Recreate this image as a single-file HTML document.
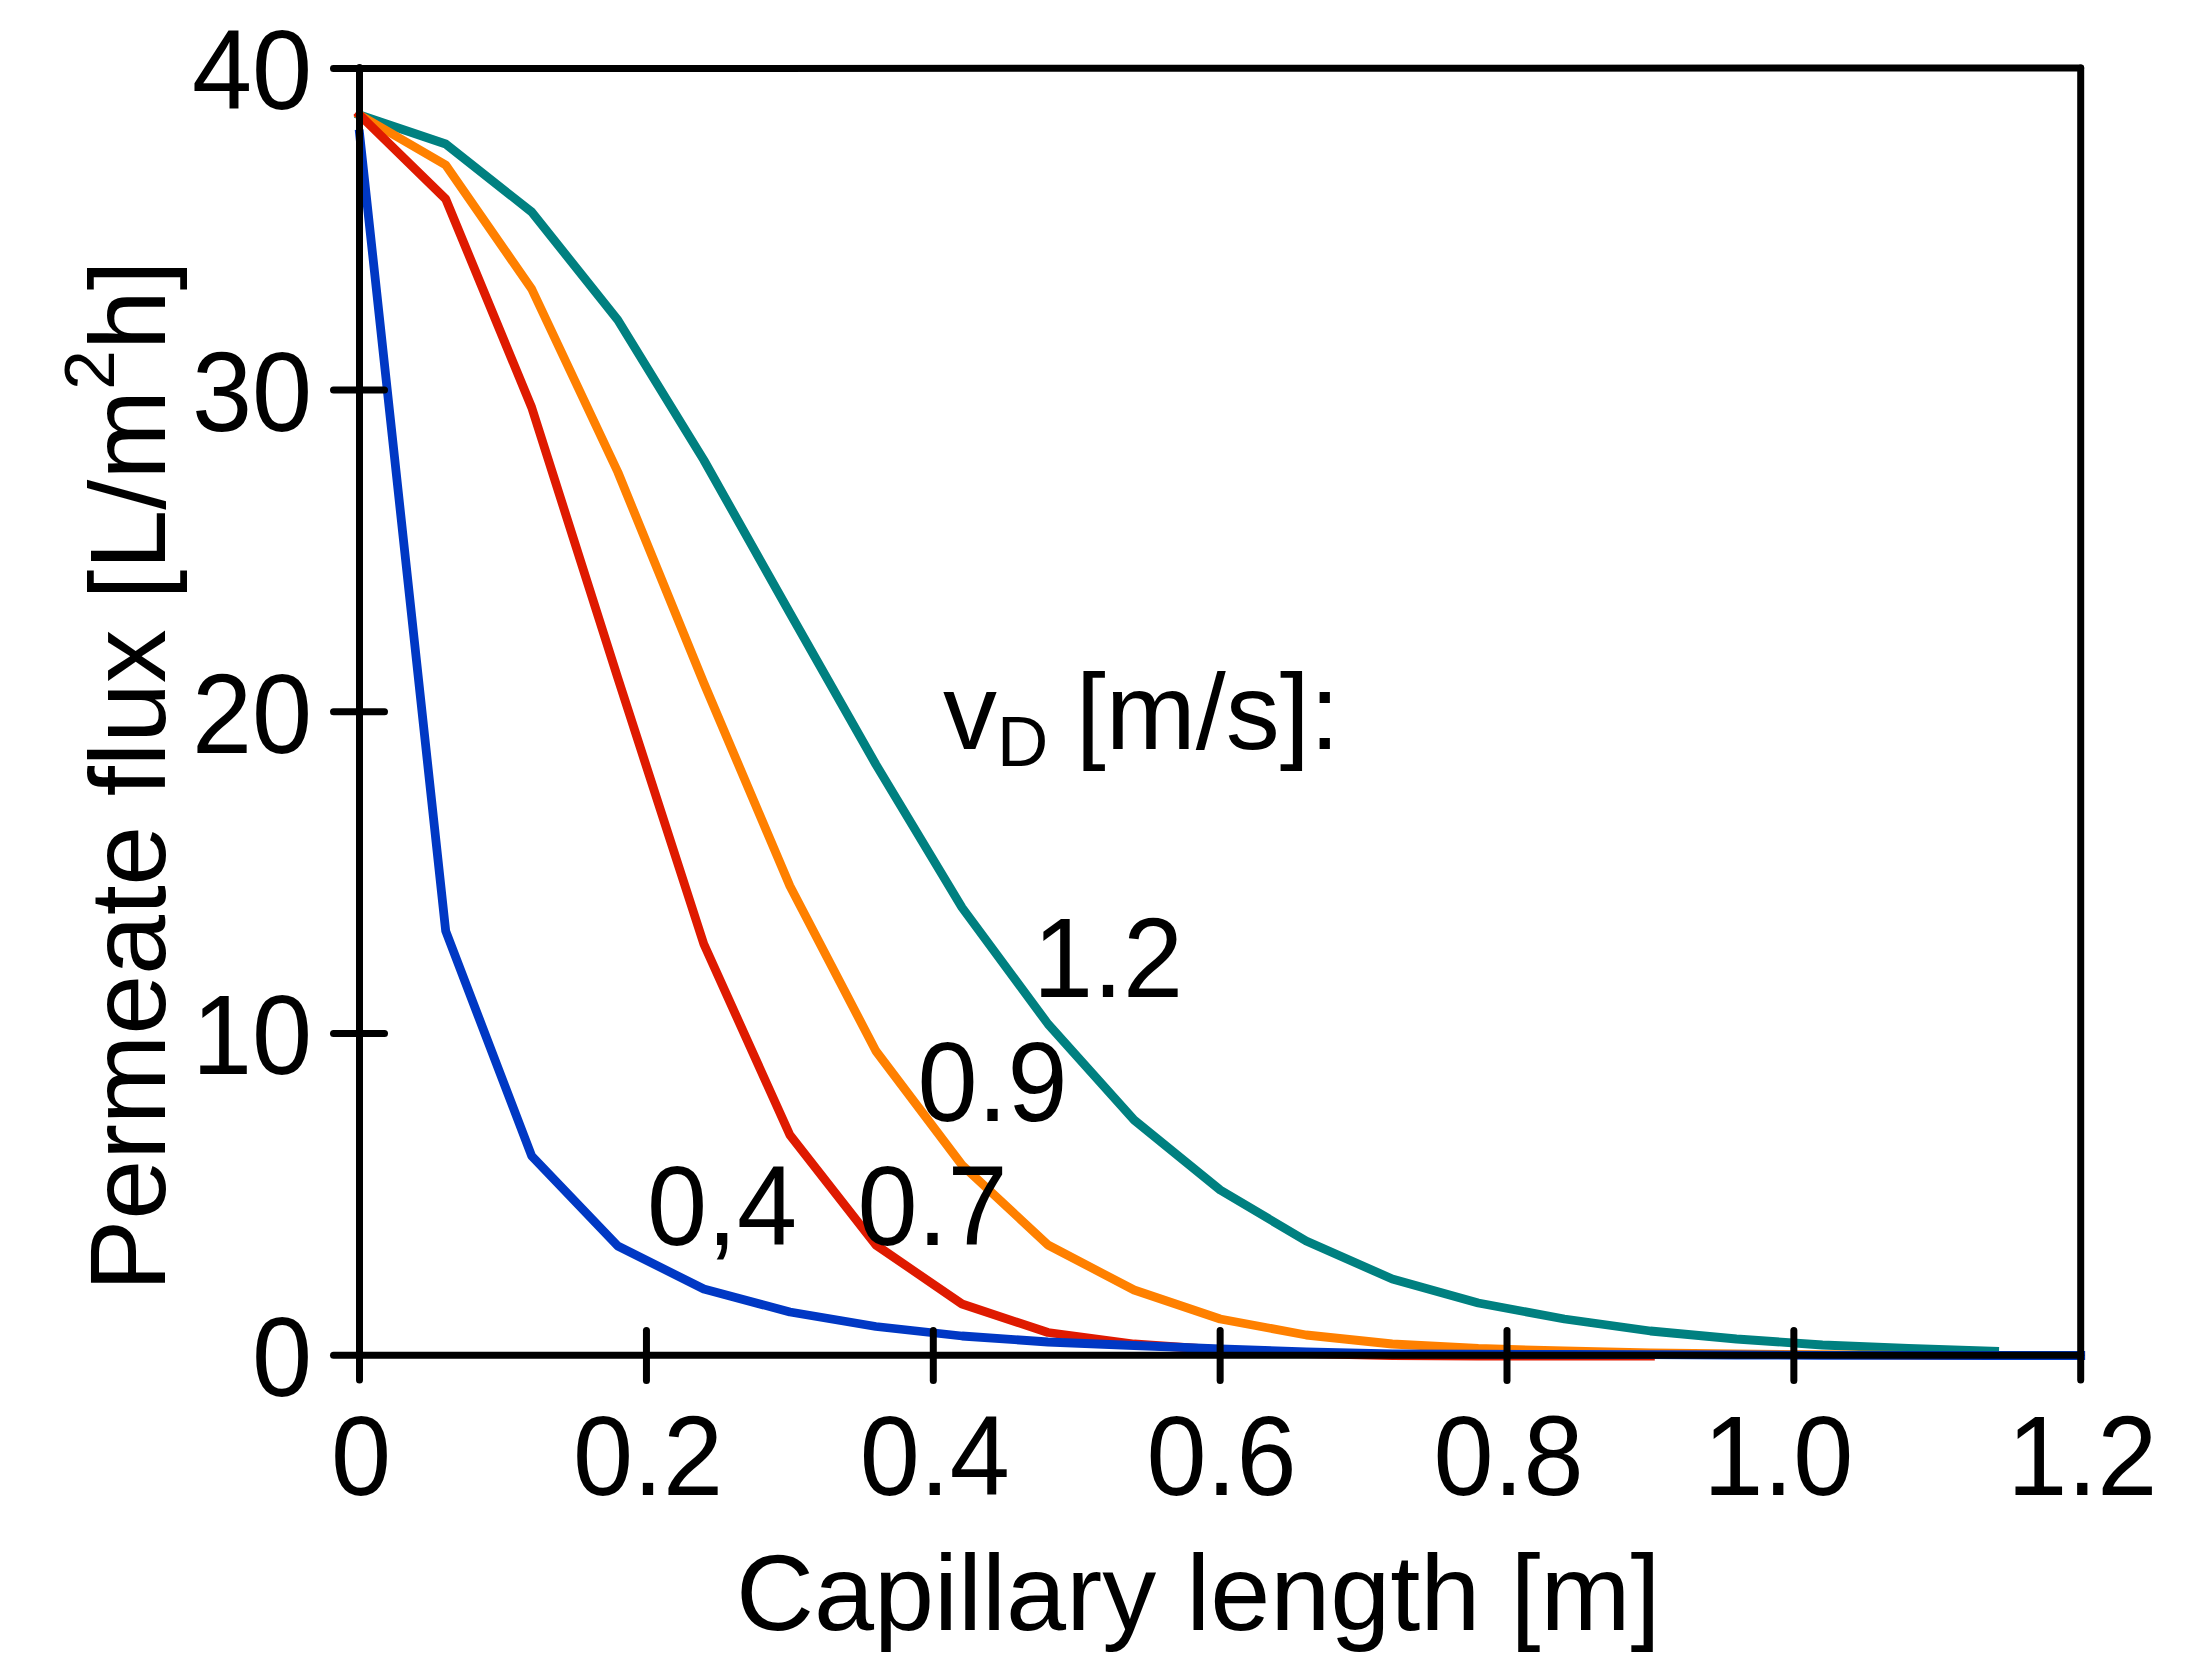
<!DOCTYPE html>
<html lang="en">
<head>
<meta charset="utf-8">
<title>Permeate flux vs capillary length</title>
<style>
html,body{margin:0;padding:0;background:#fff;}
body{width:2204px;height:1679px;overflow:hidden;}
svg{display:block;position:absolute;left:0;top:0;}
text{font-family:"Liberation Sans",Arial,Helvetica,sans-serif;fill:#000;}
</style>
</head>
<body>
<svg width="2204" height="1679" viewBox="0 0 2204 1679" role="img" aria-label="Permeate flux versus capillary length for different feed velocities">
<rect x="0" y="0" width="2204" height="1679" fill="#ffffff"/>

<g>
<polyline points="359.6,115.0 445.7,144.0 531.7,212.0 617.8,320.0 703.8,460.0 789.9,613.0 875.9,764.5 962.0,907.5 1048.0,1024.0 1134.1,1120.0 1220.2,1190.0 1306.2,1241.0 1392.3,1279.0 1478.3,1303.0 1564.4,1319.0 1650.4,1331.0 1736.5,1339.0 1822.5,1345.0 1908.6,1348.5 1994.6,1351.3" fill="none" stroke="#008080" stroke-width="8.8" stroke-linejoin="round" stroke-linecap="square"/>
<polyline points="359.6,115.0 445.7,165.0 531.7,289.0 617.8,472.0 703.8,683.0 789.9,886.0 875.9,1051.0 962.0,1165.0 1048.0,1245.0 1134.1,1290.0 1220.2,1319.0 1306.2,1335.0 1392.3,1344.0 1478.3,1348.5 1564.4,1351.0 1650.4,1353.0 1736.5,1354.0 1822.5,1354.6 1908.6,1355.4 1994.6,1355.5 2080.7,1355.5" fill="none" stroke="#ff8000" stroke-width="8.8" stroke-linejoin="round" stroke-linecap="square"/>
<polyline points="359.6,115.0 445.7,199.0 531.7,407.5 617.8,678.0 703.8,944.0 789.9,1135.0 875.9,1245.0 962.0,1304.0 1048.0,1332.5 1134.1,1344.0 1220.2,1350.0 1306.2,1353.5 1392.3,1355.5 1478.3,1356.2 1564.4,1356.2 1650.4,1356.2" fill="none" stroke="#df1a00" stroke-width="8.8" stroke-linejoin="round" stroke-linecap="square"/>
<polyline points="359.6,134.0 445.7,931.0 531.7,1156.0 617.8,1246.0 703.8,1289.0 789.9,1312.0 875.9,1326.5 962.0,1336.0 1048.0,1342.0 1134.1,1345.5 1220.2,1348.8 1306.2,1352.0 1392.3,1353.8 1478.3,1354.2 1564.4,1354.5 1650.4,1354.7 1736.5,1355.0 1822.5,1355.3 1908.6,1355.4 1994.6,1355.5 2080.7,1355.5" fill="none" stroke="#0038c4" stroke-width="8.8" stroke-linejoin="round" stroke-linecap="square"/>
</g>
<g stroke="#000" stroke-width="7" stroke-linecap="round" fill="none">
<line x1="333.5" y1="68.5" x2="2080.7" y2="68.0"/>
<line x1="333.5" y1="1355.3" x2="2080.7" y2="1355.3"/>
<line x1="359.5" y1="67.5" x2="359.5" y2="1380"/>
<line x1="2080.7" y1="68.0" x2="2080.7" y2="1380"/>
<line x1="333.5" y1="1033.38" x2="384.5" y2="1033.38"/>
<line x1="333.5" y1="711.75" x2="384.5" y2="711.75"/>
<line x1="333.5" y1="390.12" x2="384.5" y2="390.12"/>
<line x1="646.45" y1="1330.5" x2="646.45" y2="1380.5"/>
<line x1="933.30" y1="1330.5" x2="933.30" y2="1380.5"/>
<line x1="1220.15" y1="1330.5" x2="1220.15" y2="1380.5"/>
<line x1="1507.00" y1="1330.5" x2="1507.00" y2="1380.5"/>
<line x1="1793.85" y1="1330.5" x2="1793.85" y2="1380.5"/>
</g>
<g font-size="108">
<text transform="translate(312.0,1395.7) scale(1,1.04)" text-anchor="end">0</text>
<text transform="translate(312.0,1074.1) scale(1,1.04)" text-anchor="end">10</text>
<text transform="translate(312.0,752.5) scale(1,1.04)" text-anchor="end">20</text>
<text transform="translate(312.0,430.8) scale(1,1.04)" text-anchor="end">30</text>
<text transform="translate(312.0,109.2) scale(1,1.04)" text-anchor="end">40</text>
<text transform="translate(361.1,1495.2) scale(1,1.04)" text-anchor="middle">0</text>
<text transform="translate(648.0,1495.2) scale(1,1.04)" text-anchor="middle">0.2</text>
<text transform="translate(934.8,1495.2) scale(1,1.04)" text-anchor="middle">0.4</text>
<text transform="translate(1221.6,1495.2) scale(1,1.04)" text-anchor="middle">0.6</text>
<text transform="translate(1508.5,1495.2) scale(1,1.04)" text-anchor="middle">0.8</text>
<text transform="translate(1778.3,1495.2) scale(1,1.04)" text-anchor="middle">1.0</text>
<text transform="translate(2082.2,1495.2) scale(1,1.04)" text-anchor="middle">1.2</text>
<text x="736" y="1630">Capillary length [m]</text>
<text transform="translate(165.2,1291.5) rotate(-90)"><tspan letter-spacing="-0.33">Permeate flux </tspan>[L/m<tspan font-size="71" dy="-51">2</tspan><tspan dy="51">h]</tspan></text>
<text x="943" y="749">v<tspan font-size="71" dy="17">D</tspan><tspan dy="-17" dx="-2.5"> [m/s]:</tspan></text>
<text transform="translate(1033.0,997.0) scale(1,1.04)" text-anchor="start">1.2</text>
<text transform="translate(917.5,1121.0) scale(1,1.04)" text-anchor="start">0.9</text>
<text transform="translate(857.5,1245.0) scale(1,1.04)" text-anchor="start">0.7</text>
<text transform="translate(647.0,1245.0) scale(1,1.04)" text-anchor="start">0,4</text>
</g>
</svg>
</body>
</html>
